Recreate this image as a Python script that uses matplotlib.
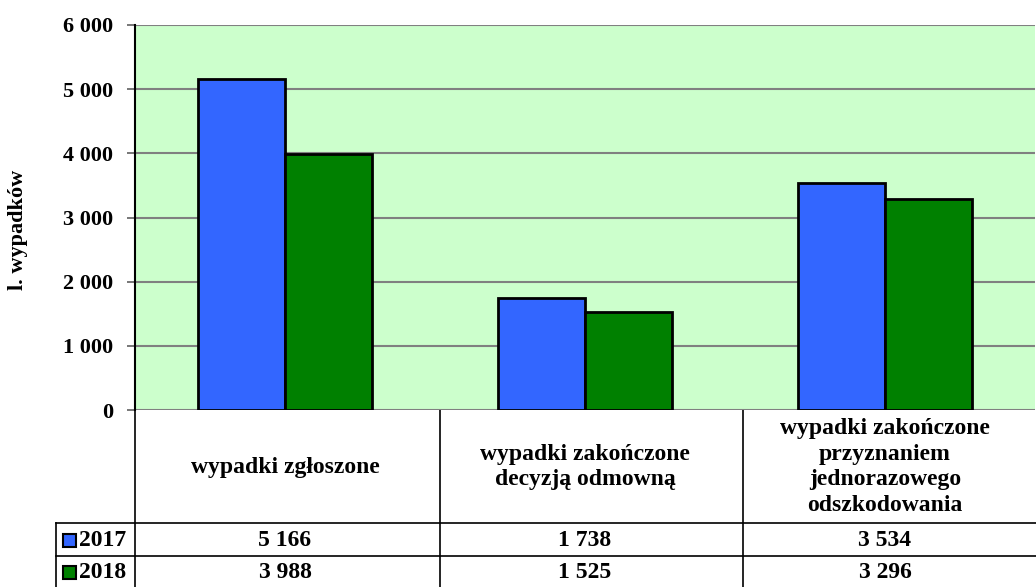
import numpy as np
import matplotlib.pyplot as plt

categories = ["wypadki zgłoszone",
              "wypadki zakończone\ndecyzją odmowną",
              "wypadki zakończone\nprzyznaniem\njednorazowego\nodszkodowania"]
years = ["2017", "2018"]
values_2017 = [5166, 1738, 3534]
values_2018 = [3988, 1525, 3296]
yticks = [0, 1000, 2000, 3000, 4000, 5000, 6000]
colors = ["#3366FF", "#008000"]

plt.rcParams["font.family"] = ["Liberation Serif", "DejaVu Serif"]
plt.rcParams["font.weight"] = "bold"

W, H = 1036, 587
fig = plt.figure(figsize=(W / 100, H / 100), dpi=100)

def px(x0, y0, x1, y1):
    return [x0 / W, 1 - y1 / H, (x1 - x0) / W, (y1 - y0) / H]

ax = fig.add_axes(px(135, 25, 1035, 410))
ax.set_facecolor("#CCFFCC")
x = np.arange(len(categories))
bw = 0.29
series = [values_2017, values_2018]
for i, vals in enumerate(series):
    ax.bar(x + (i - 0.5) * bw, vals, bw, color=colors[i], edgecolor="black",
           linewidth=2, zorder=3)
ax.set_xlim(-0.5, 2.5)
ax.set_ylim(0, 6000)
ax.set_yticks(yticks)
ax.set_yticklabels([f"{v:,}".replace(",", " ") for v in yticks], fontsize=16, fontweight="bold")
ax.set_xticks([])
ax.grid(axis="y", color="#808080", linewidth=1.5, zorder=1)
ax.tick_params(axis="y", length=6, width=1.2, color="#606060", pad=10)
for s in ["top", "right", "bottom"]:
    ax.spines[s].set_visible(False)
ax.spines["left"].set_linewidth(1.5)
fig.text(18 / W, 1 - 230 / H, "l. wypadków", rotation=90, ha="center", va="center",
         fontsize=16, fontweight="bold")

# data table below the axes
tax = fig.add_axes(px(0, 410, W, H))
tax.set_xlim(0, W)
tax.set_ylim(H, 410)
tax.axis("off")
ppu = 300  # pixels per category
cx = [135 + ppu * (k + 0.5) for k in range(len(categories))]
lw = 1.2
for xv in [135, 440, 743]:
    tax.plot([xv, xv], [410, H], color="black", lw=lw)
tax.plot([56, 56], [523, H], color="black", lw=lw)
for yv in [523, 556]:
    tax.plot([56, W], [yv, yv], color="black", lw=lw)
for k, c in enumerate(categories):
    tax.text(cx[k], 467, c, ha="center", va="center", fontsize=17,
             fontweight="bold", linespacing=1.3)
rows_y = [540, 572]
for i, vals in enumerate(series):
    tax.add_patch(plt.Rectangle((63, rows_y[i] - 6.5), 13, 13, facecolor=colors[i],
                                edgecolor="black", lw=1.5))
    tax.text(79, rows_y[i], years[i], ha="left", va="center", fontsize=17, fontweight="bold")
    for k, v in enumerate(vals):
        tax.text(cx[k], rows_y[i], f"{v:,}".replace(",", " "), ha="center",
                 va="center", fontsize=17, fontweight="bold")

fig.savefig("out.png", dpi=100)
